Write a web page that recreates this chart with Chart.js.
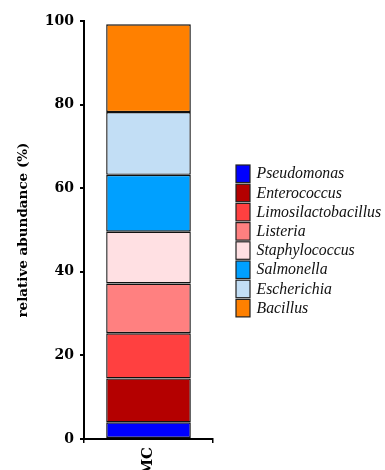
<!DOCTYPE html>
<html><head><meta charset="utf-8">
<script src="https://cdn.jsdelivr.net/npm/chart.js@4/dist/chart.umd.min.js"></script>
<style>html,body{margin:0;padding:0;background:#fff;overflow:hidden}#wrap{width:385px;height:478px}</style>
</head><body><div id="wrap"><canvas id="c"></canvas></div>
<script>
const categories = ['MC'];
const genera = ['Pseudomonas','Enterococcus','Limosilactobacillus','Listeria','Staphylococcus','Salmonella','Escherichia','Bacillus'];
const abundance = [4.0, 10.5, 10.8, 11.9, 12.4, 13.6, 15.0, 21.0];
const colors = ['#0000FF','#B40000','#FF4040','#FF8080','#FFE0E3','#00A0FF','#C2DEF5','#FF8000'];
const yTicks = [0, 20, 40, 60, 80, 100];

const datasets = genera.map((g, i) => ({
  label: g,
  data: [abundance[i]],
  backgroundColor: colors[i],
  borderColor: '#111',
  borderWidth: 1.4,
  borderSkipped: false,
  barPercentage: 0.82,
  categoryPercentage: 0.8
}));

const sideLegend = {
  id: 'sideLegend',
  afterDraw(chart) {
    const ctx = chart.ctx;
    const x0 = 236, y0 = 165, step = 19.2, bw = 14, bh = 17.5;
    ctx.save();
    ctx.font = 'italic 15.8px "Liberation Serif"';
    ctx.textBaseline = 'middle';
    ctx.textAlign = 'left';
    chart.data.datasets.forEach((ds, i) => {
      const y = y0 + i * step;
      ctx.fillStyle = ds.backgroundColor;
      ctx.fillRect(x0, y, bw, bh);
      ctx.strokeStyle = '#222';
      ctx.lineWidth = 1.2;
      ctx.strokeRect(x0, y, bw, bh);
      ctx.fillStyle = '#111';
      ctx.fillText(ds.label, 256.5, y + bh / 2 + 0.5);
    });
    ctx.restore();
  }
};

new Chart(document.getElementById('c'), {
  type: 'bar',
  data: { labels: categories, datasets },
  plugins: [sideLegend],
  options: {
    responsive: true,
    maintainAspectRatio: false,
    animation: false,
    layout: { padding: { left: 0, top: 21, right: 172, bottom: 0 } },
    plugins: {
      tooltip: { enabled: false },
      legend: { display: false }
    },
    scales: {
      x: {
        stacked: true,
        afterFit: (s) => { s.height = 39; },
        grid: { display: true, drawOnChartArea: false, drawTicks: true, tickLength: 4, color: '#000', lineWidth: 1.5 },
        border: { color: '#000', width: 2 },
        ticks: { color: '#000', maxRotation: 90, minRotation: 90, padding: 4, font: { family: 'DejaVu Serif', weight: 'bold', size: 15 } }
      },
      y: {
        stacked: true,
        min: 0, max: 100,
        afterBuildTicks: (s) => { s.ticks = yTicks.map(v => ({ value: v })); },
        afterFit: (s) => { s.width = 84; },
        grid: { display: true, drawOnChartArea: false, drawTicks: true, tickLength: 4, color: '#000', lineWidth: 2 },
        border: { color: '#000', width: 2 },
        ticks: { color: '#000', padding: 6, font: { family: 'DejaVu Serif', weight: 'bold', size: 14 } },
        title: { display: true, text: 'relative abundance (%)', color: '#000', padding: { top: 15, bottom: 0 }, font: { family: 'DejaVu Serif', weight: 'bold', size: 13.5 } }
      }
    }
  }
});
</script></body></html>
